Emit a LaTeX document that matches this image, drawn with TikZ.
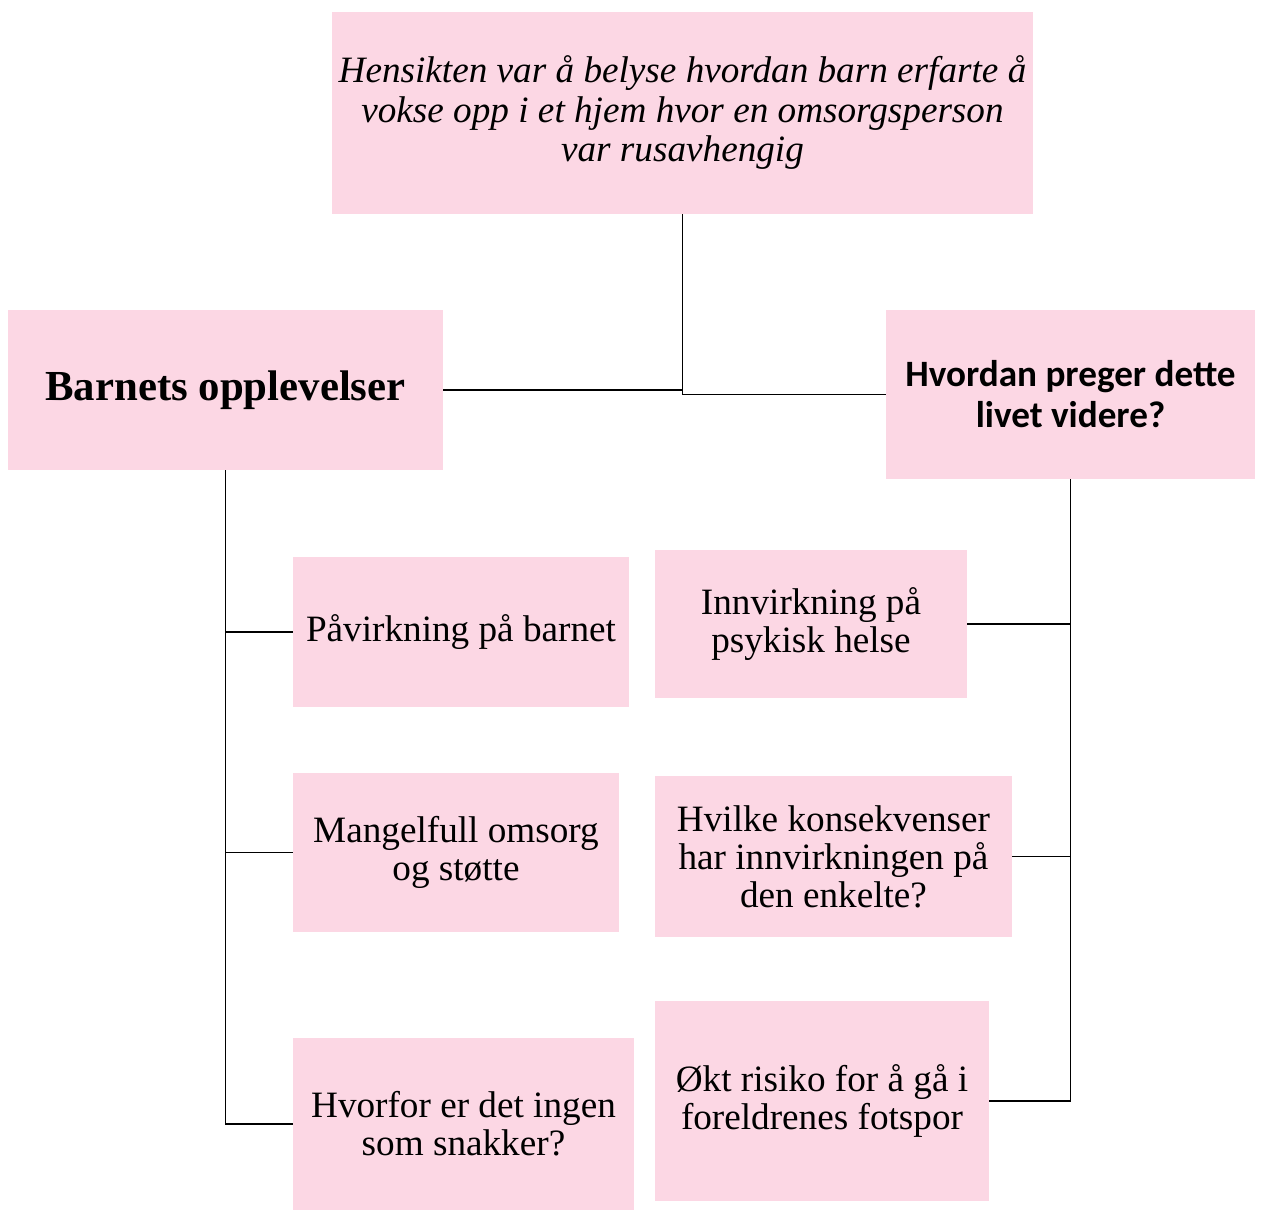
\documentclass[tikz,border=0pt]{standalone}
\usepackage{fontspec}
\setmainfont{Liberation Serif}
\newfontfamily\boxsans{Carlito}
\definecolor{boxpink}{HTML}{FCD7E4}
\tikzset{
  pinkbox/.style={shape=rectangle,fill=boxpink,draw=none,align=center,inner sep=0pt,font=\fontsize{18.6}{19}\selectfont},
  link/.style={draw=black,line width=0.75pt}
}
\begin{document}
\begin{tikzpicture}[x=0.5pt,y=-0.5pt]
\useasboundingbox (0,0) rectangle (1263,1211);
\node[pinkbox,minimum width=350.5pt,minimum height=101pt,font=\fontsize{18.6}{19.75}\selectfont\itshape] (aim) at (682.5,113) {Hensikten var å belyse hvordan barn erfarte å\\vokse opp i et hjem hvor en omsorgsperson\\var rusavhengig};
\node[pinkbox,minimum width=217.5pt,minimum height=80pt,font=\fontsize{21.4}{23}\selectfont\bfseries] (child) at (225.5,390) {Barnets opplevelser};
\node[pinkbox,minimum width=184.5pt,minimum height=84.5pt,font=\fontsize{18.6}{20.5}\selectfont\boxsans\bfseries] (later) at (1070.5,394.5) {Hvordan preger dette\\livet videre?};

\node[pinkbox,minimum width=168pt,minimum height=75pt] (c1) at (461,632) {Påvirkning på barnet};
\node[pinkbox,minimum width=163pt,minimum height=79.5pt] (c2) at (456,852.5) {Mangelfull omsorg\\og støtte};
\node[pinkbox,minimum width=170.5pt,minimum height=86pt] (c3) at (463.5,1124) {Hvorfor er det ingen\\som snakker?};

\node[pinkbox,minimum width=156pt,minimum height=74pt] (l1) at (811,624) {Innvirkning på\\psykisk helse};
\node[pinkbox,minimum width=178.5pt,minimum height=80.5pt] (l2) at (833.5,856.5) {Hvilke konsekvenser\\har innvirkningen på\\den enkelte?};
\node[pinkbox,minimum width=167pt,minimum height=100pt] (l3) at (822,1101) {Økt risiko for å gå i\\foreldrenes fotspor};

\path [link] (aim.south) |- (child.east);
\path [link] (aim.south) |- (later.west);
\path [link] (child.south) |- (c1.west);
\path [link] (child.south) |- (c2.west);
\path [link] (child.south) |- (c3.west);
\path [link] (later.south) |- (l1.east);
\path [link] (later.south) |- (l2.east);
\path [link] (later.south) |- (l3.east);
\end{tikzpicture}
\end{document}
